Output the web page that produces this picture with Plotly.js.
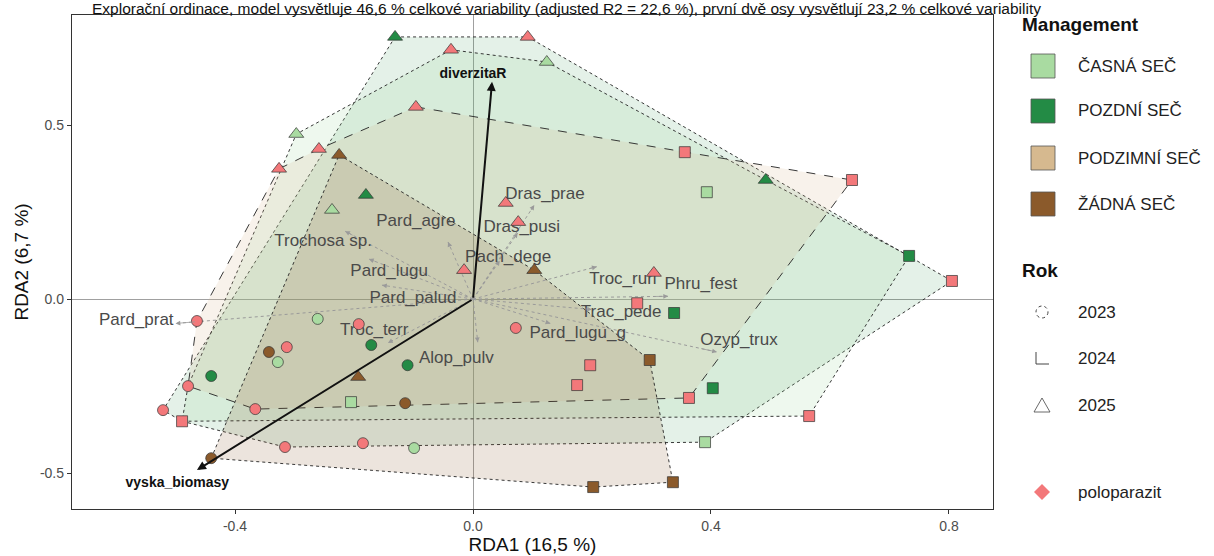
<!DOCTYPE html>
<html><head><meta charset="utf-8">
<script src="https://cdn.plot.ly/plotly-3.0.1.min.js"></script>
<style>body{margin:0;background:#fff}#chart{width:1214px;height:556px}</style>
</head><body><div id="chart"></div>
<script>
// ---------- DATA ----------
const mgmtNames  = ["ČASNÁ SEČ", "POZDNÍ SEČ", "PODZIMNÍ SEČ", "ŽÁDNÁ SEČ"];
const mgmtColors = ["#a9dba1", "#238b45", "#d6b98f", "#8b5a2b"];
const yearNames  = ["2023", "2024", "2025"];
const yearSymbols = {2023: "circle", 2024: "square", 2025: "triangle-up"};

// site scores (RDA1, RDA2) per management
const casna_x = [-0.261, -0.328, -0.099, 0.393, 0.390, -0.205, 0.124, -0.297, -0.237];
const casna_y = [-0.057, -0.181, -0.428, 0.307, -0.411, -0.296, 0.681, 0.474, 0.256];
const casna_year = [2023, 2023, 2023, 2024, 2024, 2024, 2025, 2025, 2025];

const pozdni_x = [-0.171, -0.110, -0.440, 0.733, 0.338, 0.403, -0.131, -0.180, 0.492];
const pozdni_y = [-0.132, -0.190, -0.221, 0.124, -0.040, -0.256, 0.753, 0.299, 0.342];
const pozdni_year = [2023, 2023, 2023, 2024, 2024, 2024, 2025, 2025, 2025];

const zadna_x = [-0.343, -0.114, -0.440, 0.297, 0.202, 0.336, -0.225, 0.103, -0.193];
const zadna_y = [-0.152, -0.299, -0.457, -0.175, -0.540, -0.526, 0.414, 0.083, -0.224];
const zadna_year = [2023, 2023, 2023, 2024, 2024, 2024, 2025, 2025, 2025];

// sites with hemiparasite (poloparazit)
const polo_x = [-0.464, -0.192, -0.313, -0.479, -0.521, -0.366, -0.316, -0.185, 0.072,
                 0.356, 0.637, 0.805, 0.276, 0.197, 0.175, 0.363, 0.565, -0.489,
                -0.037, 0.092, -0.096, -0.259, -0.326, -0.015, 0.055, 0.076, 0.304];
const polo_y = [-0.063, -0.072, -0.138, -0.250, -0.319, -0.316, -0.425, -0.414, -0.083,
                 0.422, 0.342, 0.052, -0.012, -0.190, -0.247, -0.284, -0.336, -0.351,
                 0.716, 0.753, 0.552, 0.431, 0.374, 0.083, 0.276, 0.221, 0.075];
const polo_year = [2023,2023,2023,2023,2023,2023,2023,2023,2023,
                   2024,2024,2024,2024,2024,2024,2024,2024,2024,
                   2025,2025,2025,2025,2025,2025,2025,2025,2025];

// hull outlines
const hull1_x = [-0.131, 0.092, 0.805, 0.390, -0.316, -0.489, -0.521];
const hull1_y = [0.753, 0.753, 0.052, -0.411, -0.425, -0.351, -0.319];
const hull2_x = [-0.037, 0.124, 0.492, 0.733, 0.565, -0.489, -0.479, -0.297];
const hull2_y = [0.716, 0.681, 0.342, 0.124, -0.336, -0.351, -0.250, 0.474];
const hull3_x = [-0.096, 0.356, 0.637, 0.363, -0.366, -0.479, -0.464, -0.326, -0.259];
const hull3_y = [0.552, 0.422, 0.342, -0.284, -0.316, -0.250, -0.063, 0.374, 0.431];
const hull4_x = [-0.225, 0.103, 0.297, 0.336, 0.202, -0.440];
const hull4_y = [0.414, 0.083, -0.175, -0.526, -0.540, -0.457];

// species scores (arrow tips) and label positions
const species_names = ["Trochosa sp.", "Pard_agre", "Dras_prae", "Dras_pusi", "Pach_dege", "Pard_lugu",
  "Pard_palud", "Pard_prat", "Troc_terr", "Alop_pulv", "Pard_lugu_g", "Trac_pede", "Ozyp_trux", "Troc_ruri", "Phru_fest"];
const species_x = [-0.215, -0.042, 0.103, 0.075, 0.045, -0.175, -0.153, -0.500, -0.143, 0.008, 0.130, 0.200, 0.410, 0.208, 0.328];
const species_y = [0.195, 0.164, 0.270, 0.190, 0.110, 0.115, 0.040, -0.070, -0.126, -0.124, -0.070, -0.030, -0.152, 0.093, 0.008];
const species_lx = [-0.252, -0.096, 0.121, 0.082, 0.059, -0.141, -0.101, -0.566, -0.166, -0.028, 0.176, 0.249, 0.447, 0.252, 0.383];
const species_ly = [0.164, 0.221, 0.299, 0.204, 0.118, 0.078, 0.000, -0.063, -0.092, -0.170, -0.101, -0.040, -0.121, 0.055, 0.040];

// environmental vectors
const env_names = ["diverzitaR", "vyska_biomasy"];
const env_x = [0.032, -0.464];
const env_y = [0.624, -0.491];
const env_lx = [0.000, -0.497];
const env_ly = [0.646, -0.529];

// ---------- TRACES ----------
const traces = [];
const hullStyle = [
  {x: hull1_x, y: hull1_y, fill: "rgba(35,139,69,0.12)", dash: "dot"},
  {x: hull2_x, y: hull2_y, fill: "rgba(150,210,150,0.16)", dash: "dot"},
  {x: hull3_x, y: hull3_y, fill: "rgba(214,185,143,0.18)", dash: "dash"},
  {x: hull4_x, y: hull4_y, fill: "rgba(139,90,43,0.16)", dash: "dot"}
];
hullStyle.forEach(h => {
  traces.push({type: "scatter", mode: "lines", x: h.x.concat([h.x[0]]), y: h.y.concat([h.y[0]]),
    fill: "toself", fillcolor: h.fill, line: {color: "#222", width: 0.9, dash: h.dash},
    hoverinfo: "skip", showlegend: false});
});

// species arrows (dotted grey lines)
species_names.forEach((n, i) => {
  traces.push({type: "scatter", mode: "lines", x: [0, species_x[i]], y: [0, species_y[i]],
    line: {color: "#9a9a9a", width: 1, dash: "dot"}, hoverinfo: "skip", showlegend: false});
});
// species labels
traces.push({type: "scatter", mode: "text", x: species_lx, y: species_ly, text: species_names,
  textfont: {family: "Liberation Sans, Arial, sans-serif", size: 17, color: "#4a4a4a"},
  hoverinfo: "skip", showlegend: false});

function addSites(xs, ys, yrs, color) {
  [2023, 2024, 2025].forEach(yr => {
    const xx = [], yy = [];
    xs.forEach((v, i) => { if (yrs[i] === yr) { xx.push(v); yy.push(ys[i]); } });
    traces.push({type: "scatter", mode: "markers", x: xx, y: yy,
      marker: {symbol: yearSymbols[yr], size: yr === 2025 ? 13 : 11, color: color,
               line: {color: "#333", width: 0.7}},
      hoverinfo: "x+y", showlegend: false});
  });
}
addSites(casna_x, casna_y, casna_year, mgmtColors[0]);
addSites(pozdni_x, pozdni_y, pozdni_year, mgmtColors[1]);
addSites(zadna_x, zadna_y, zadna_year, mgmtColors[3]);
addSites(polo_x, polo_y, polo_year, "#f3787a");

// env vector labels
traces.push({type: "scatter", mode: "text", x: env_lx, y: env_ly, text: env_names.map(s => "<b>" + s + "</b>"),
  textfont: {family: "Liberation Sans, Arial, sans-serif", size: 14, color: "#111"},
  hoverinfo: "skip", showlegend: false});

// ---------- ANNOTATIONS ----------
const annotations = [];
env_names.forEach((n, i) => {
  annotations.push({x: env_x[i], y: env_y[i], ax: 0, ay: 0, axref: "x", ayref: "y", xref: "x", yref: "y",
    text: "", showarrow: true, arrowhead: 2, arrowsize: 0.9, arrowwidth: 2, arrowcolor: "#111"});
});
species_names.forEach((n, i) => {
  annotations.push({x: species_x[i], y: species_y[i], ax: species_x[i] * 0.93, ay: species_y[i] * 0.93,
    axref: "x", ayref: "y", xref: "x", yref: "y",
    text: "", showarrow: true, arrowhead: 2, arrowsize: 1.2, arrowwidth: 0.8, arrowcolor: "#9a9a9a"});
});

// legend (manual, ggplot style)
const PL = 72, PR = 993, PT = 15, PB = 509;
const px = v => (v - PL) / (PR - PL);
const py = v => (PB - v) / (PB - PT);
const lf = {family: "Liberation Sans, Arial, sans-serif", size: 17, color: "#222"};
const hf = {family: "Liberation Sans, Arial, sans-serif", size: 19, color: "#111"};
const shapes = [];
annotations.push({xref: "paper", yref: "paper", x: px(1020), y: py(25), xanchor: "left", yanchor: "middle",
  text: "<b>Management</b>", showarrow: false, font: hf});
const legY = [66, 111, 158, 204];
mgmtNames.forEach((n, i) => {
  shapes.push({type: "rect", xref: "paper", yref: "paper", x0: px(1031), x1: px(1055),
    y0: py(legY[i] + 12), y1: py(legY[i] - 12), fillcolor: mgmtColors[i], line: {color: "#555", width: 0.8}});
  annotations.push({xref: "paper", yref: "paper", x: px(1076), y: py(legY[i]), xanchor: "left", yanchor: "middle",
    text: n, showarrow: false, font: lf});
});
annotations.push({xref: "paper", yref: "paper", x: px(1020), y: py(270), xanchor: "left", yanchor: "middle",
  text: "<b>Rok</b>", showarrow: false, font: hf});
const rokY = [312, 358, 405];
yearNames.forEach((n, i) => {
  annotations.push({xref: "paper", yref: "paper", x: px(1076), y: py(rokY[i]), xanchor: "left", yanchor: "middle",
    text: n, showarrow: false, font: lf});
});
shapes.push({type: "circle", xref: "paper", yref: "paper", x0: px(1036), x1: px(1048), y0: py(318), y1: py(306),
  line: {color: "#444", width: 1, dash: "dot"}});
shapes.push({type: "path", xref: "paper", yref: "paper",
  path: `M ${px(1036)} ${py(352)} L ${px(1036)} ${py(364)} L ${px(1049)} ${py(364)}`, line: {color: "#444", width: 1}});
shapes.push({type: "path", xref: "paper", yref: "paper",
  path: `M ${px(1034)} ${py(412)} L ${px(1050)} ${py(412)} L ${px(1042)} ${py(398)} Z`, line: {color: "#444", width: 0.8}});
shapes.push({type: "path", xref: "paper", yref: "paper", fillcolor: "#f3787a",
  path: `M ${px(1042)} ${py(484)} L ${px(1050)} ${py(492)} L ${px(1042)} ${py(500)} L ${px(1034)} ${py(492)} Z`,
  line: {width: 0}});
annotations.push({xref: "paper", yref: "paper", x: px(1076), y: py(492), xanchor: "left", yanchor: "middle",
  text: "poloparazit", showarrow: false, font: lf});

const layout = {
  width: 1214, height: 556,
  margin: {l: PL, r: 1214 - PR, t: PT, b: 556 - PB},
  paper_bgcolor: "#fff", plot_bgcolor: "#fff",
  font: {family: "Liberation Sans, Arial, sans-serif"},
  title: {text: "Explorační ordinace, model vysvětluje 46,6 % celkové variability (adjusted R2 = 22,6 %), první dvě osy vysvětlují 23,2 % celkové variability",
    xref: "container", yref: "container", x: 92 / 1214, xanchor: "left", y: 1 - 8.5 / 556, yanchor: "middle",
    font: {size: 15.5, color: "#111"}},
  xaxis: {range: [-0.674, 0.874], showgrid: false, zeroline: true, zerolinecolor: "#a0a0a0", zerolinewidth: 1,
    showline: true, mirror: true, linecolor: "#333", linewidth: 1.2, ticks: "outside", ticklen: 4, tickcolor: "#333",
    tickvals: [-0.4, 0, 0.4, 0.8], ticktext: ["-0.4", "0.0", "0.4", "0.8"],
    tickfont: {size: 14, color: "#4d4d4d"},
    title: {text: "RDA1 (16,5 %)", font: {size: 19, color: "#111"}, standoff: 2}},
  yaxis: {range: [-0.603, 0.816], showgrid: false, zeroline: true, zerolinecolor: "#a0a0a0", zerolinewidth: 1,
    showline: true, mirror: true, linecolor: "#333", linewidth: 1.2, ticks: "outside", ticklen: 4, tickcolor: "#333",
    tickvals: [-0.5, 0, 0.5], ticktext: ["-0.5", "0.0", "0.5"],
    tickfont: {size: 14, color: "#4d4d4d"},
    title: {text: "RDA2 (6,7 %)", font: {size: 19, color: "#111"}, standoff: 6}},
  shapes: shapes,
  annotations: annotations,
  showlegend: false
};
Plotly.newPlot("chart", traces, layout, {displayModeBar: false, staticPlot: true});
</script></body></html>
